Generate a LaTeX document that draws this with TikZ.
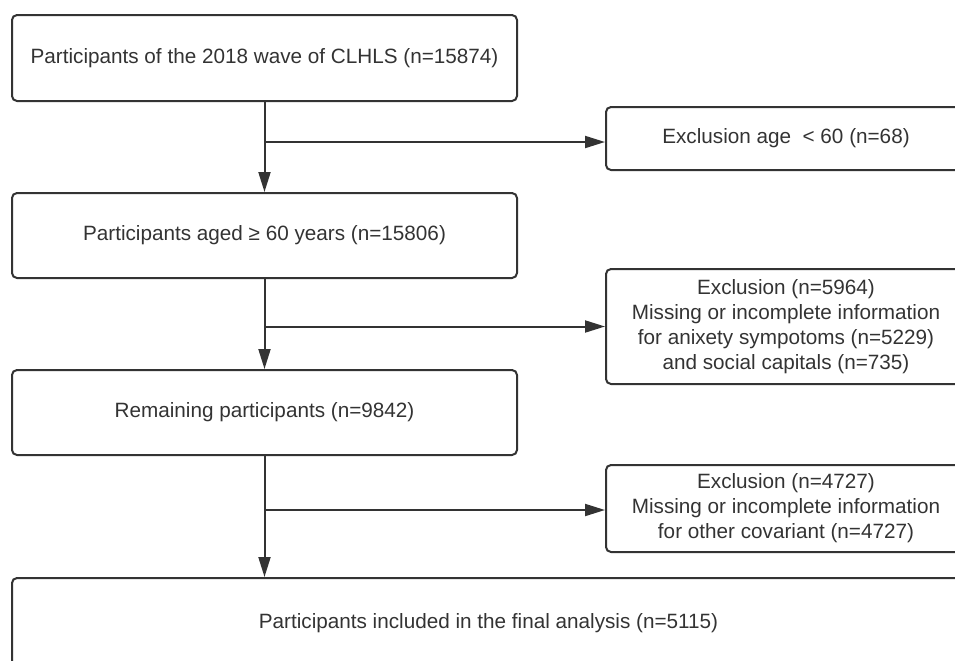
\documentclass[tikz,border=0pt]{standalone}
\usepackage{fontspec}
\setmainfont{Liberation Sans}
\usetikzlibrary{arrows.meta}
\definecolor{ink}{HTML}{333333}
\begin{document}
\begin{tikzpicture}[
        x=0.5pt, y=-0.5pt,
        >={Triangle[length=10pt,width=6pt]},
        line width=1pt, draw=ink,
        box/.style={
            draw=ink, line width=1pt, rounded corners=2.5pt,
            minimum width=252.5pt, minimum height=42.5pt,
            align=center, text=ink, inner sep=0pt,
            font=\fontsize{10.35}{12.5}\selectfont
        },
        mainbox/.style={box},
        exbox/.style={box, minimum width=180pt},
        flow/.style={->, draw=ink, line width=1pt}
    ]

    % Marco de la imagen
    \useasboundingbox (0,0) rectangle (955,660);
    \clip (0,0) rectangle (955,660);

    % 1. Columna principal
    \node[mainbox, minimum height=43pt] (wave) at (264.5,58) {Participants of the 2018 wave of CLHLS (n=15874)};
    \node[mainbox] (aged) at (264.5,235.5) {Participants aged ≥ 60 years (n=15806)};
    \node[mainbox] (remain) at (264.5,412.5) {Remaining participants (n=9842)};
    \node[mainbox, minimum width=476.5pt, minimum height=45pt] (final) at (488.5,623) {Participants included in the final analysis (n=5115)};

    % 2. Exclusiones a la derecha
    \node[exbox, minimum height=31.5pt] (exage) at (786,138.5) {Exclusion age \ < 60 (n=68)};
    \node[exbox, minimum height=57.5pt] (exmiss) at (786,326.5) {Exclusion (n=5964)\\Missing or incomplete information\\for anixety sympotoms (n=5229)\\and social capitals (n=735)};
    \node[exbox, minimum height=43.5pt] (excov) at (786,508.5) {Exclusion (n=4727)\\Missing or incomplete information\\for other covariant (n=4727)};

    % 3. Puntos de bifurcación
    \coordinate (br1) at (264.5,142);
    \coordinate (br2) at (264.5,326.5);
    \coordinate (br3) at (264.5,510);

    % 4. Flechas verticales
    \draw[flow] (wave.south) -- (aged.north);
    \draw[flow] (aged.south) -- (remain.north);
    \draw[flow] (remain.south) -- (final.north -| remain.south);

    % 5. Flechas hacia las exclusiones
    \draw[flow] (br1) -- (br1 -| exage.west);
    \draw[flow] (br2) -- (br2 -| exmiss.west);
    \draw[flow] (br3) -- (br3 -| excov.west);

\end{tikzpicture}
\end{document}
